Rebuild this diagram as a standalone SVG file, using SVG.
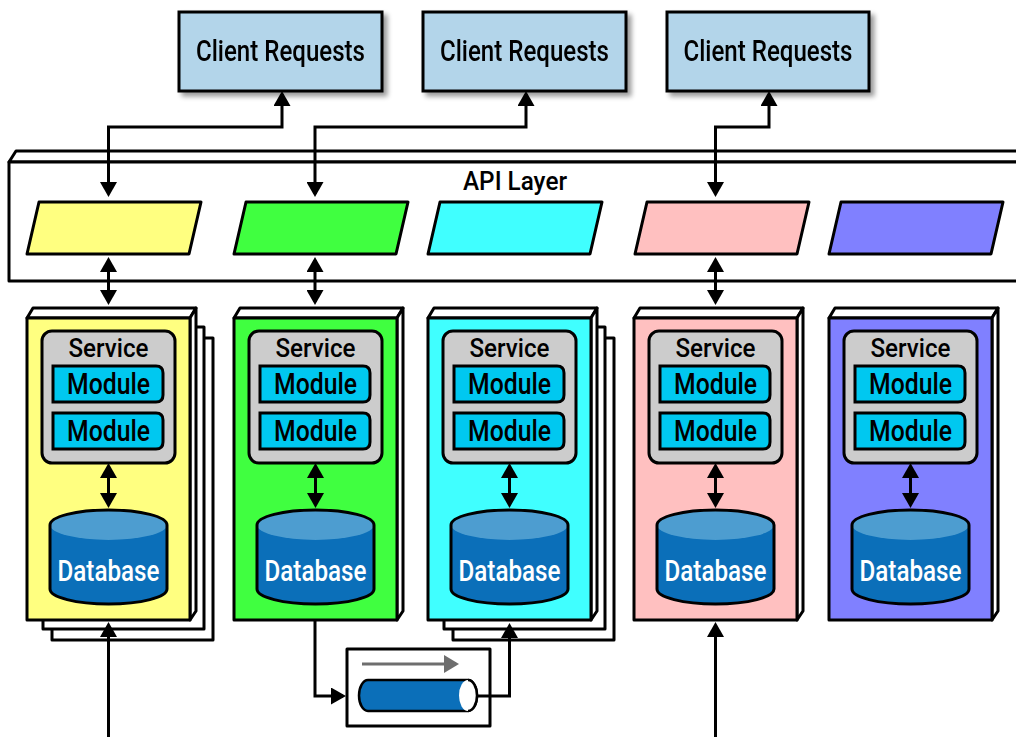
<svg xmlns="http://www.w3.org/2000/svg" width="1016" height="737" viewBox="0 0 1016 737">
<style>
.ol{stroke:#000;stroke-width:3;stroke-linejoin:round}
.wf{fill:#fff}
.client{fill:#b3d5ea;stroke:#000;stroke-width:3}
.t{font-family:Roboto,"Liberation Sans",Arial,sans-serif;font-weight:500;fill:#000;text-anchor:middle}
.ct{font-size:29px}
.st{font-size:26px}
.mt{font-size:29px}
.dt{font-size:29px;fill:#fff}
.gray{fill:#cccccc;stroke:#000;stroke-width:3}
.mod{fill:#00c8f0;stroke:#000;stroke-width:3}
.dbb{fill:#0b6fb9}
.dbt{fill:#4d9dd0}
.dbo{fill:none;stroke:#000;stroke-width:3}
.con{fill:none;stroke:#000;stroke-width:3;stroke-linejoin:miter}
.arr2{marker-start:url(#ah);marker-end:url(#ah)}
.arr1{marker-end:url(#ah)}
</style>
<defs>
<marker id="ah" markerUnits="userSpaceOnUse" markerWidth="15" markerHeight="17" viewBox="0 0 15 17" refX="12" refY="8.5" orient="auto-start-reverse">
<path d="M0,0 L15,8.5 L0,17 Z" fill="#000"/>
</marker>
<marker id="gah" markerUnits="userSpaceOnUse" markerWidth="15" markerHeight="18" viewBox="0 0 15 18" refX="12" refY="9" orient="auto">
<path d="M0,0 L15,9 L0,18 Z" fill="#6e6e6e"/>
</marker>
<filter id="sh" x="-10%" y="-10%" width="130%" height="140%">
<feGaussianBlur in="SourceAlpha" stdDeviation="2.5"/>
<feOffset dx="4" dy="4" result="b"/>
<feComponentTransfer><feFuncA type="linear" slope="0.4"/></feComponentTransfer>
<feMerge><feMergeNode/><feMergeNode in="SourceGraphic"/></feMerge>
</filter>
</defs>
<rect width="1016" height="737" fill="#fff"/>

<g id="api-layer">
<polygon class="ol wf" points="9,162 16,151 1030,151 1030,162"/>
<rect class="ol wf" x="9" y="162" width="1020" height="119"/>
<text class="t" x="515" y="190" font-size="26" textLength="104" lengthAdjust="spacingAndGlyphs">API Layer</text>
</g>

<g id="api-yellow"><polygon class="ol" fill="#ffff80" points="39,202 201,202 189,254 27,254"/></g>
<g id="api-green"><polygon class="ol" fill="#40ff40" points="246,202 408,202 396,254 234,254"/></g>
<g id="api-cyan"><polygon class="ol" fill="#40ffff" points="440,202 602,202 590,254 428,254"/></g>
<g id="api-pink"><polygon class="ol" fill="#ffc0c0" points="647,202 809,202 797,254 635,254"/></g>
<g id="api-blue"><polygon class="ol" fill="#8080ff" points="841,202 1003,202 991,254 829,254"/></g>

<g id="client-1" filter="url(#sh)">
<rect class="client" x="179" y="12" width="203" height="79"/>
<text class="t ct" x="280.5" y="61" textLength="169" lengthAdjust="spacingAndGlyphs">Client Requests</text>
</g>
<g id="client-2" filter="url(#sh)">
<rect class="client" x="423" y="12" width="203" height="79"/>
<text class="t ct" x="524.5" y="61" textLength="169" lengthAdjust="spacingAndGlyphs">Client Requests</text>
</g>
<g id="client-3" filter="url(#sh)">
<rect class="client" x="667" y="12" width="202" height="79"/>
<text class="t ct" x="768" y="61" textLength="169" lengthAdjust="spacingAndGlyphs">Client Requests</text>
</g>

<g id="service-yellow">
<rect class="ol wf" x="52" y="338" width="161" height="302"/>
<rect class="ol wf" x="43" y="327" width="161" height="302"/>
<polygon class="ol wf" points="27,318 33,308 196,308 190,318"/>
<polygon class="ol wf" points="190,318 196,308 196,611 190,620"/>
<rect class="ol" fill="#ffff80" x="27" y="318" width="163" height="302"/>
<rect class="gray" x="42" y="331" width="133" height="132" rx="10"/>
<text class="t st" x="108.5" y="357" textLength="80" lengthAdjust="spacingAndGlyphs">Service</text>
<path class="mod" d="M53,366 H156 Q163,366 163,373 V395 Q163,402 156,402 H53 Z"/>
<text class="t mt" x="108.5" y="394" textLength="83" lengthAdjust="spacingAndGlyphs">Module</text>
<path class="mod" d="M53,413 H156 Q163,413 163,420 V442 Q163,449 156,449 H53 Z"/>
<text class="t mt" x="108.5" y="441" textLength="83" lengthAdjust="spacingAndGlyphs">Module</text>
<path class="dbb" d="M50,525 A58.5,15 0 0 1 167,525 V589 A58.5,15 0 0 1 50,589 Z"/>
<ellipse class="dbt" cx="108.5" cy="525" rx="58.5" ry="15"/>
<path class="dbo" d="M50,525 A58.5,15 0 0 1 167,525 V589 A58.5,15 0 0 1 50,589 Z"/>
<text class="t dt" x="108.5" y="581" textLength="102" lengthAdjust="spacingAndGlyphs">Database</text>
</g>

<g id="service-green" transform="translate(207,0)">
<polygon class="ol wf" points="27,318 33,308 196,308 190,318"/>
<polygon class="ol wf" points="190,318 196,308 196,611 190,620"/>
<rect class="ol" fill="#40ff40" x="27" y="318" width="163" height="302"/>
<rect class="gray" x="42" y="331" width="133" height="132" rx="10"/>
<text class="t st" x="108.5" y="357" textLength="80" lengthAdjust="spacingAndGlyphs">Service</text>
<path class="mod" d="M53,366 H156 Q163,366 163,373 V395 Q163,402 156,402 H53 Z"/>
<text class="t mt" x="108.5" y="394" textLength="83" lengthAdjust="spacingAndGlyphs">Module</text>
<path class="mod" d="M53,413 H156 Q163,413 163,420 V442 Q163,449 156,449 H53 Z"/>
<text class="t mt" x="108.5" y="441" textLength="83" lengthAdjust="spacingAndGlyphs">Module</text>
<path class="dbb" d="M50,525 A58.5,15 0 0 1 167,525 V589 A58.5,15 0 0 1 50,589 Z"/>
<ellipse class="dbt" cx="108.5" cy="525" rx="58.5" ry="15"/>
<path class="dbo" d="M50,525 A58.5,15 0 0 1 167,525 V589 A58.5,15 0 0 1 50,589 Z"/>
<text class="t dt" x="108.5" y="581" textLength="102" lengthAdjust="spacingAndGlyphs">Database</text>
</g>

<g id="service-cyan" transform="translate(401,0)">
<rect class="ol wf" x="52" y="338" width="161" height="302"/>
<rect class="ol wf" x="43" y="327" width="161" height="302"/>
<polygon class="ol wf" points="27,318 33,308 196,308 190,318"/>
<polygon class="ol wf" points="190,318 196,308 196,611 190,620"/>
<rect class="ol" fill="#40ffff" x="27" y="318" width="163" height="302"/>
<rect class="gray" x="42" y="331" width="133" height="132" rx="10"/>
<text class="t st" x="108.5" y="357" textLength="80" lengthAdjust="spacingAndGlyphs">Service</text>
<path class="mod" d="M53,366 H156 Q163,366 163,373 V395 Q163,402 156,402 H53 Z"/>
<text class="t mt" x="108.5" y="394" textLength="83" lengthAdjust="spacingAndGlyphs">Module</text>
<path class="mod" d="M53,413 H156 Q163,413 163,420 V442 Q163,449 156,449 H53 Z"/>
<text class="t mt" x="108.5" y="441" textLength="83" lengthAdjust="spacingAndGlyphs">Module</text>
<path class="dbb" d="M50,525 A58.5,15 0 0 1 167,525 V589 A58.5,15 0 0 1 50,589 Z"/>
<ellipse class="dbt" cx="108.5" cy="525" rx="58.5" ry="15"/>
<path class="dbo" d="M50,525 A58.5,15 0 0 1 167,525 V589 A58.5,15 0 0 1 50,589 Z"/>
<text class="t dt" x="108.5" y="581" textLength="102" lengthAdjust="spacingAndGlyphs">Database</text>
</g>

<g id="service-pink" transform="translate(607,0)">
<polygon class="ol wf" points="27,318 33,308 196,308 190,318"/>
<polygon class="ol wf" points="190,318 196,308 196,611 190,620"/>
<rect class="ol" fill="#ffc0c0" x="27" y="318" width="163" height="302"/>
<rect class="gray" x="42" y="331" width="133" height="132" rx="10"/>
<text class="t st" x="108.5" y="357" textLength="80" lengthAdjust="spacingAndGlyphs">Service</text>
<path class="mod" d="M53,366 H156 Q163,366 163,373 V395 Q163,402 156,402 H53 Z"/>
<text class="t mt" x="108.5" y="394" textLength="83" lengthAdjust="spacingAndGlyphs">Module</text>
<path class="mod" d="M53,413 H156 Q163,413 163,420 V442 Q163,449 156,449 H53 Z"/>
<text class="t mt" x="108.5" y="441" textLength="83" lengthAdjust="spacingAndGlyphs">Module</text>
<path class="dbb" d="M50,525 A58.5,15 0 0 1 167,525 V589 A58.5,15 0 0 1 50,589 Z"/>
<ellipse class="dbt" cx="108.5" cy="525" rx="58.5" ry="15"/>
<path class="dbo" d="M50,525 A58.5,15 0 0 1 167,525 V589 A58.5,15 0 0 1 50,589 Z"/>
<text class="t dt" x="108.5" y="581" textLength="102" lengthAdjust="spacingAndGlyphs">Database</text>
</g>

<g id="service-blue" transform="translate(802,0)">
<polygon class="ol wf" points="27,318 33,308 196,308 190,318"/>
<polygon class="ol wf" points="190,318 196,308 196,611 190,620"/>
<rect class="ol" fill="#8080ff" x="27" y="318" width="163" height="302"/>
<rect class="gray" x="42" y="331" width="133" height="132" rx="10"/>
<text class="t st" x="108.5" y="357" textLength="80" lengthAdjust="spacingAndGlyphs">Service</text>
<path class="mod" d="M53,366 H156 Q163,366 163,373 V395 Q163,402 156,402 H53 Z"/>
<text class="t mt" x="108.5" y="394" textLength="83" lengthAdjust="spacingAndGlyphs">Module</text>
<path class="mod" d="M53,413 H156 Q163,413 163,420 V442 Q163,449 156,449 H53 Z"/>
<text class="t mt" x="108.5" y="441" textLength="83" lengthAdjust="spacingAndGlyphs">Module</text>
<path class="dbb" d="M50,525 A58.5,15 0 0 1 167,525 V589 A58.5,15 0 0 1 50,589 Z"/>
<ellipse class="dbt" cx="108.5" cy="525" rx="58.5" ry="15"/>
<path class="dbo" d="M50,525 A58.5,15 0 0 1 167,525 V589 A58.5,15 0 0 1 50,589 Z"/>
<text class="t dt" x="108.5" y="581" textLength="102" lengthAdjust="spacingAndGlyphs">Database</text>
</g>

<g id="queue">
<rect class="ol wf" x="347" y="649" width="143" height="77"/>
<line x1="362" y1="664" x2="456" y2="664" stroke="#6e6e6e" stroke-width="3" marker-end="url(#gah)"/>
<path d="M368,680 H468 A9,15.5 0 0 1 468,711 H368 A9,15.5 0 0 1 368,680 Z" fill="#0b6fb9" stroke="#000" stroke-width="2.5"/>
<ellipse cx="468" cy="695.5" rx="9" ry="15.5" fill="#fff"/>
<path d="M468,680 A9,15.5 0 0 1 468,711" fill="none" stroke="#000" stroke-width="2.5"/>
</g>

<g id="connectors">
<path class="con arr2" d="M108.5,194 V127 H282 V94"/>
<path class="con arr2" d="M315,194 V127 H526 V94"/>
<path class="con arr2" d="M715.5,194 V127 H769 V94"/>
<path class="con arr2" d="M108.5,260 V302"/>
<path class="con arr2" d="M315,260 V302"/>
<path class="con arr2" d="M715.5,260 V302"/>
<path class="con arr2" d="M108.5,466 V505"/>
<path class="con arr2" d="M315.5,466 V505"/>
<path class="con arr2" d="M509.5,466 V505"/>
<path class="con arr2" d="M715.5,466 V505"/>
<path class="con arr2" d="M910.5,466 V505"/>
<path class="con arr1" d="M108.5,737 V625"/>
<path class="con arr1" d="M715.5,737 V625"/>
<path class="con arr1" d="M315,620 V696 H343"/>
<path class="con arr1" d="M477,696 H509.5 V626"/>
</g>
</svg>
